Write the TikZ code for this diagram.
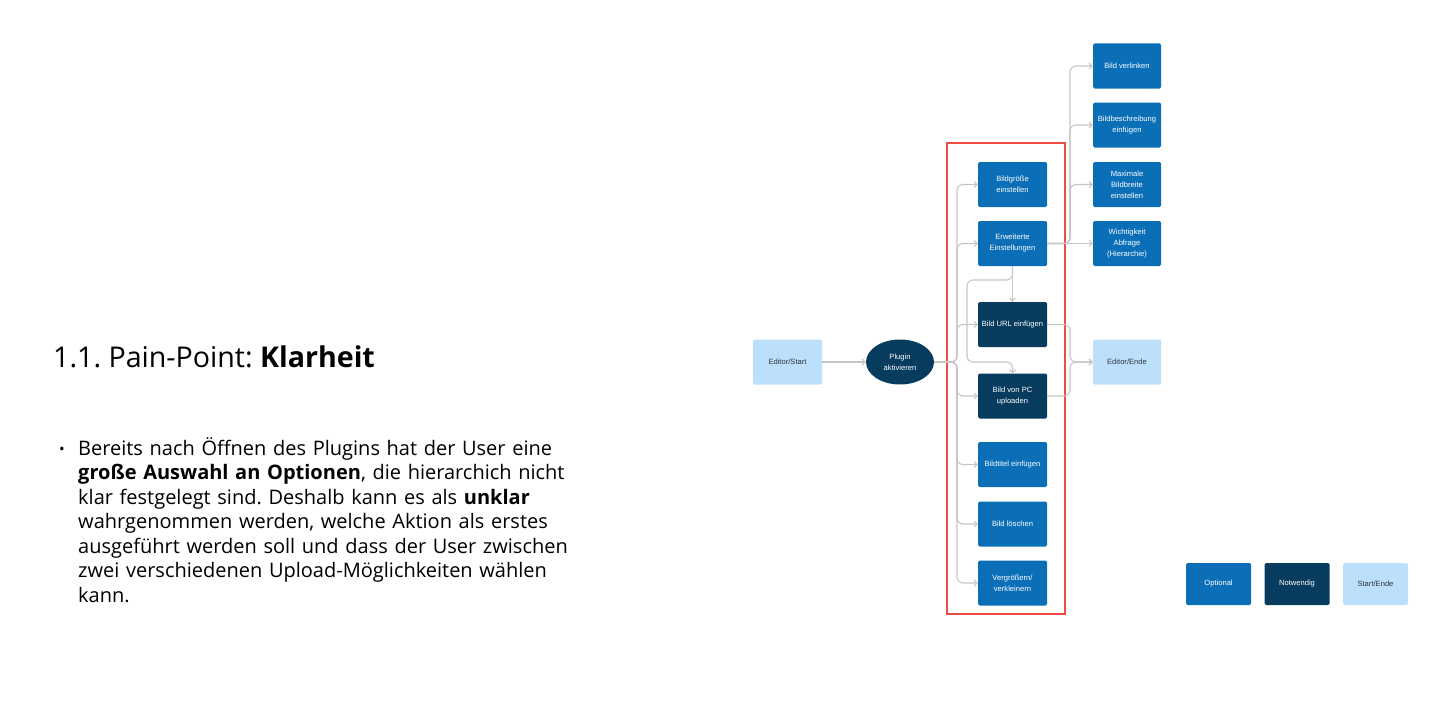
\documentclass[tikz,border=0pt]{standalone}
\usepackage{fontspec}
\setmainfont{Open Sans}
\newfontfamily\boxfont{Liberation Sans}
\usetikzlibrary{arrows.meta,shapes.geometric}
\definecolor{opt}{HTML}{0B6FB8}
\definecolor{req}{HTML}{073C5E}
\definecolor{se}{HTML}{BCE0FC}
\definecolor{lin}{HTML}{C6C6C6}
\definecolor{redc}{HTML}{EE4B43}
\definecolor{setext}{HTML}{2B3540}
\frenchspacing
\begin{document}
\begin{tikzpicture}[x=1pt,y=-1pt,
 box/.style={rectangle, rounded corners=1.5pt, minimum width=69pt, minimum height=45pt, inner sep=1pt, align=center, font=\boxfont\fontsize{7.6}{11}\selectfont},
 optbox/.style={box, fill=opt, text=white},
 reqbox/.style={box, fill=req, text=white},
 sebox/.style={box, fill=se, text=setext},
 legbox/.style={minimum width=65pt, minimum height=42pt},
 conn/.style={draw=lin, line width=1.1pt, rounded corners=6pt, -{Straight Barb[length=3pt,width=6pt]}},
]
\useasboundingbox (0,0) rectangle (1432,701);
\fill[white] (0,0) rectangle (1432,701);

% left text
\node[anchor=base west, inner sep=0pt, font=\fontsize{28.6}{34}\selectfont] (title) at (53,367) {1.1. Pain-Point: \textbf{Klarheit}};
\node[anchor=base, inner sep=0pt, font=\fontsize{15}{15}\selectfont] (bullet) at (62,454) {•};
\node[anchor=base west, inner sep=0pt, text width=540pt, align=left, font=\fontsize{20}{24.5}\selectfont] (body) at (78,455) {Bereits nach Öffnen des Plugins hat der User eine\\
\textbf{große Auswahl an Optionen}, die hierarchich nicht\\
klar festgelegt sind. Deshalb kann es als \textbf{unklar}\\
wahrgenommen werden, welche Aktion als erstes\\
ausgeführt werden soll und dass der User zwischen\\
zwei verschiedenen Upload-Möglichkeiten wählen\\
kann.};

% red frame
\draw[redc, line width=1.2pt] (947,143) rectangle (1065,614);

% nodes
\node[sebox] (start) at (787.5,362) {Editor/Start};
\node[ellipse, fill=req, text=white, minimum width=68pt, minimum height=45pt, inner sep=0pt, align=center, font=\boxfont\fontsize{7.6}{11}\selectfont] (plugin) at (900,362) {Plugin\\aktivieren};

\node[optbox] (b1) at (1012.5,184.5) {Bildgröße\\einstellen};
\node[optbox] (b2) at (1012.5,243.5) {Erweiterte\\Einstellungen};
\node[reqbox] (b3) at (1012.5,324.5) {Bild URL einfügen};
\node[reqbox] (b4) at (1012.5,396) {Bild von PC\\uploaden};
\node[optbox] (b5) at (1012.5,464.5) {Bildtitel einfügen};
\node[optbox] (b6) at (1012.5,524) {Bild löschen};
\node[optbox] (b7) at (1012.5,583) {Vergrößern/\\verkleinern};

\node[optbox, minimum width=68pt] (r1) at (1127,66) {Bild verlinken};
\node[optbox, minimum width=68pt] (r2) at (1127,125) {Bildbeschreibung\\einfügen};
\node[optbox, minimum width=68pt] (r3) at (1127,184.5) {Maximale\\Bildbreite\\einstellen};
\node[optbox, minimum width=68pt] (r4) at (1127,243.5) {Wichtigkeit\\Abfrage\\(Hierarchie)};
\node[sebox, minimum width=68pt] (ende) at (1127,362) {Editor/Ende};

% legend
\node[optbox, legbox] (lopt) at (1218.5,584) {Optional};
\node[reqbox, legbox] (lreq) at (1297,584) {Notwendig};
\node[sebox, legbox] (lse) at (1375.5,584) {Start/Ende};

% junctions
\coordinate (jl) at (957,362);
\coordinate (e1) at (967,280);
\coordinate (e2) at (967,362);
\coordinate (jr) at (1070,243.5);
\coordinate (je) at (1070,362);

% connectors
\draw[conn] (start) -- (plugin);
\foreach \b in {b1,b2,b3,b4,b5,b6,b7}
  \draw[conn] (plugin.east) -- (jl) |- (\b.west);
\draw[conn] (b2.south) -- (b3.north);
\draw[conn] (b2.south) |- (e1) -- (e2) -| (b4.north);
\foreach \r in {r1,r2,r3}
  \draw[conn] (b2.east) -- (jr) |- (\r.west);
\draw[conn] (b2.east) -- (r4.west);
\draw[conn] (b3.east) -| (je) -- (ende.west);
\draw[conn] (b4.east) -| (je) -- (ende.west);
\end{tikzpicture}
\end{document}
